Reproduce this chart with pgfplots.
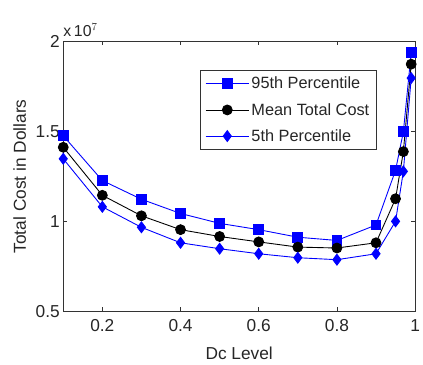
\documentclass[border=0pt]{standalone}
\usepackage{fontspec}
\setmainfont{Liberation Sans}
\usepackage{pgfplots}
\pgfplotsset{compat=1.18}
\definecolor{mblue}{rgb}{0,0,1}
\definecolor{axgray}{gray}{0.2}
\begin{document}
\begin{tikzpicture}
\useasboundingbox (-64pt,-54pt) rectangle (364pt,315pt);
\begin{axis}[
  scale only axis, width=356pt, height=273pt,
  at={(0,0)}, anchor=south west,
  xmin=0.1, xmax=1, ymin=0.5e7, ymax=2e7,
  xtick={0.2,0.4,0.6,0.8,1},
  ytick={0.5e7,1e7,1.5e7,2e7},
  scaled y ticks=base 10:-7,
  ytick scale label code/.code={x\,10$^{7}$},
  every y tick scale label/.style={at={(rel axis cs:0,1)}, anchor=south west, inner sep=0pt, yshift=5pt, font=\fontsize{16}{18}\selectfont, text=black!85},
  /pgf/number format/assume math mode=true,
  tick label style={font=\fontsize{17.5}{20}\selectfont, text=black!85},
  xticklabel style={yshift=-5pt},
  label style={font=\fontsize{17.5}{20}\selectfont, text=black!85},
  xlabel={Dc Level}, ylabel={Total Cost in Dollars},
  xlabel style={yshift=-8pt},
  ylabel style={yshift=3pt},
  tick align=inside, major tick length=4pt,
  axis line style={axgray, line width=0.8pt},
  every tick/.style={axgray, line width=0.6pt},
  clip=false,
  legend style={at={(rel axis cs:0.388,0.895)}, anchor=north west, draw=black!80, line width=0.8pt, font=\fontsize{16.5}{19}\selectfont, text=black!85, row sep=9pt, inner sep=5pt, cells={anchor=west}},
  legend image code/.code={\draw[mark repeat=2,mark phase=2] plot coordinates {(0pt,0pt) (22pt,0pt) (44pt,0pt)};},
]
\addplot[mblue, line width=0.9pt, mark=square*, mark size=5pt, mark options={fill=mblue, draw=mblue}] coordinates {
(0.1,1.476e7) (0.2,1.227e7) (0.3,1.123e7) (0.4,1.044e7) (0.5,0.989e7) (0.6,0.954e7) (0.7,0.912e7) (0.8,0.894e7) (0.9,0.980e7) (0.95,1.284e7) (0.97,1.498e7) (0.99,1.938e7)};
\addlegendentry{95th Percentile}
\addplot[black, line width=0.9pt, mark=*, mark size=5pt, mark options={fill=black}] coordinates {
(0.1,1.412e7) (0.2,1.145e7) (0.3,1.031e7) (0.4,0.954e7) (0.5,0.916e7) (0.6,0.886e7) (0.7,0.857e7) (0.8,0.852e7) (0.9,0.881e7) (0.95,1.126e7) (0.97,1.388e7) (0.99,1.874e7)};
\addlegendentry{Mean Total Cost}
\addplot[mblue, line width=0.9pt, mark=diamond*, mark size=5.5pt, mark options={fill=mblue, draw=mblue}] coordinates {
(0.1,1.348e7) (0.2,1.081e7) (0.3,0.967e7) (0.4,0.881e7) (0.5,0.848e7) (0.6,0.820e7) (0.7,0.798e7) (0.8,0.787e7) (0.9,0.820e7) (0.95,1.000e7) (0.97,1.278e7) (0.99,1.797e7)};
\addlegendentry{5th Percentile}
\end{axis}
\end{tikzpicture}
\end{document}
